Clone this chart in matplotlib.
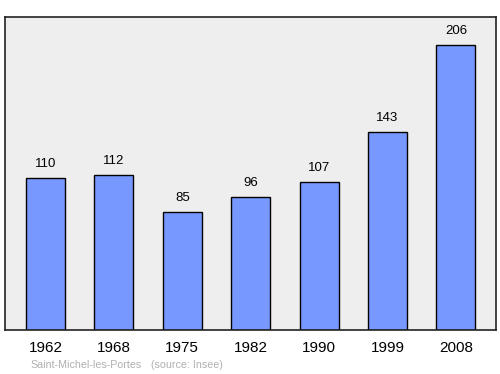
import matplotlib
matplotlib.use("Agg")
import matplotlib.pyplot as plt

years = ["1962", "1968", "1975", "1982", "1990", "1999", "2008"]
population = [110, 112, 85, 96, 107, 143, 206]
commune = "Saint-Michel-les-Portes"
source = "(source: Insee)"

plt.rcParams['font.family'] = ['Liberation Sans', 'DejaVu Sans']

fig = plt.figure(figsize=(5, 3.74), dpi=100)
ax = fig.add_axes([0.01, 0.1176, 0.982, 0.8369])
ax.set_facecolor("#eeeeee")

x = range(len(years))
ax.bar(x, population, width=0.57, color="#7799ff", edgecolor="black", linewidth=1)
for xi, v in zip(x, population):
    ax.text(xi, v + 6, str(v), ha="center", va="bottom", fontsize=9.5)

ax.set_xlim(-0.592, 6.586)
ax.set_ylim(0, 226.3)
ax.set_yticks([])
ax.set_xticks(list(x))
ax.set_xticklabels(years, fontsize=11)
ax.tick_params(axis="x", length=0, pad=8)
for s in ax.spines.values():
    s.set_linewidth(1.2)
    s.set_color("#222222")

fig.text(0.06, 0.01, commune, fontsize=7.7, color="#b0b0b0", ha="left", va="bottom")
fig.text(0.302, 0.01, source, fontsize=7.7, color="#b0b0b0", ha="left", va="bottom")

fig.savefig("out.png", dpi=100)
